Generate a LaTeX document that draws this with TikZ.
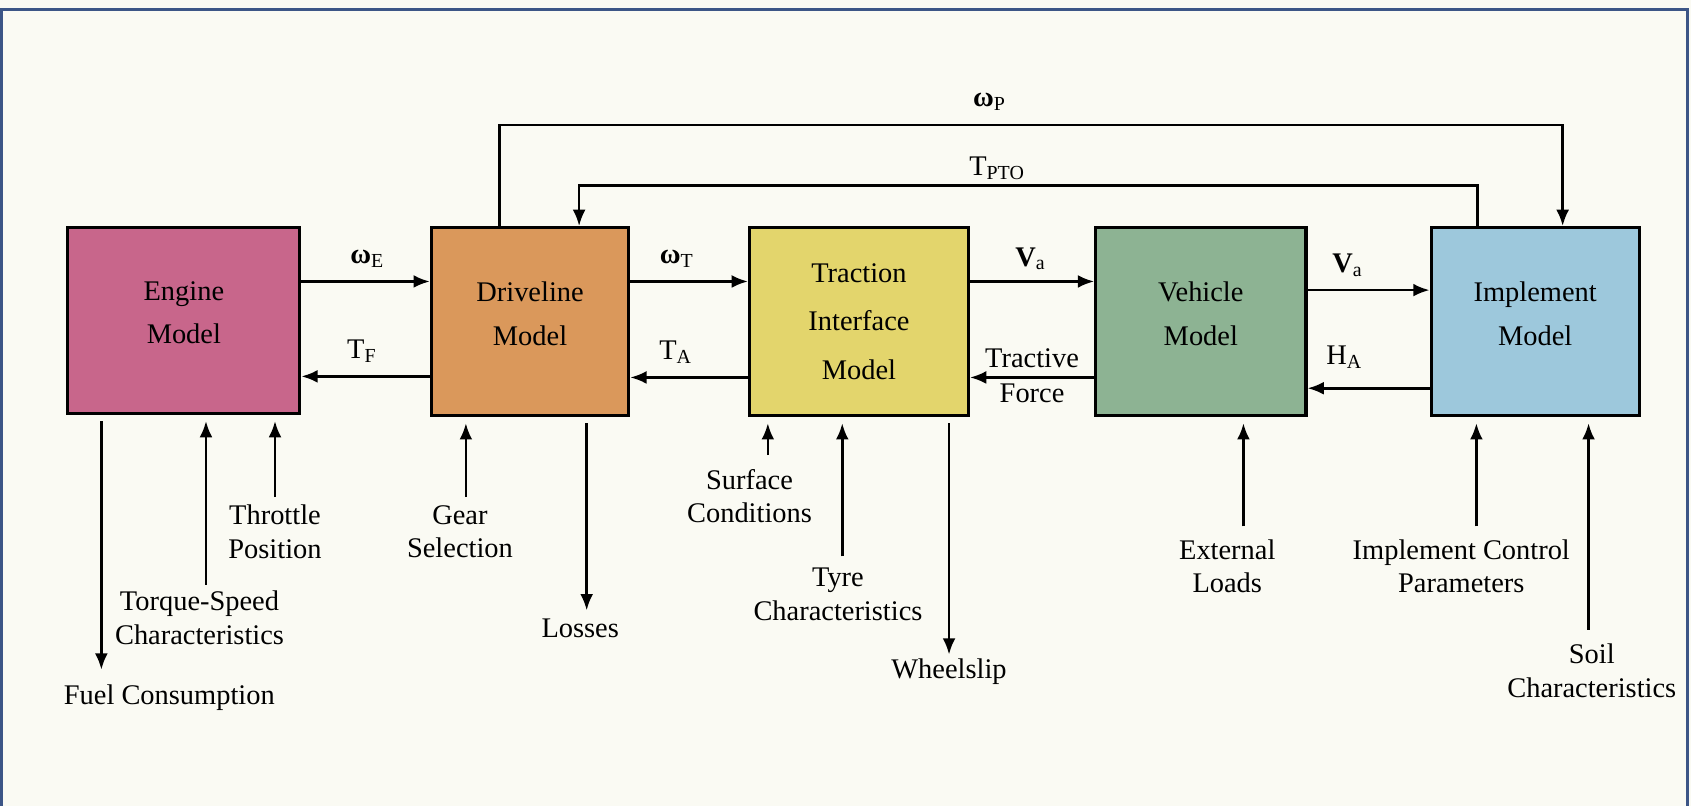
\documentclass[tikz,border=0pt]{standalone}
\usepackage{fontspec}
\setmainfont{Liberation Serif}
\usetikzlibrary{arrows.meta}

\definecolor{enginepink}{HTML}{C8668B}
\definecolor{driveorange}{HTML}{DA985B}
\definecolor{tractyellow}{HTML}{E3D56C}
\definecolor{vehgreen}{HTML}{8DB393}
\definecolor{implblue}{HTML}{9DC8DC}
\definecolor{paper}{HTML}{FAFAF3}
\definecolor{frameblue}{HTML}{3C5586}

\tikzset{
  model/.style={draw, line width=0.8pt, minimum height=17.4mm, align=center,
    font=\fontsize{7.5}{11.5}\selectfont},
  lbl/.style={align=center, inner sep=0pt, font=\fontsize{7.5}{8.8}\selectfont},
}

\begin{document}
\begin{tikzpicture}[>={Latex[length=4.3pt,width=3.4pt]}, x=0.1mm, y=-0.1mm, line width=0.7pt]
			%%%	Background and frame
			\useasboundingbox (0,0) rectangle (1568,747);
			\fill[paper] (0,0) rectangle (1568,747);
			\draw[frameblue, line width=0.8pt] (1.5,747) -- (1.5,8.5) -- (1565,8.5) -- (1565,747);
			%%%	Models
			\node[model, fill=enginepink, minimum width=21.5mm, minimum height=17.2mm] (engine) at (170.5,297) {Engine\\Model\\[-2.6mm]};
			\node[model, fill=driveorange, minimum width=18.3mm] (driveline) at (491.5,298) {Driveline\\Model\\[-2.6mm]};
			\node[model, fill=tractyellow, minimum width=20.3mm, font=\fontsize{7.5}{12.8}\selectfont] (traction) at (796.5,298) {Traction\\Interface\\Model};
			\node[model, fill=vehgreen, minimum width=19.5mm] (vehicle) at (1113.5,298) {Vehicle\\Model\\[-2.6mm]};
			\node[model, fill=implblue, minimum width=19.3mm] (implement) at (1423.5,298) {Implement\\Model\\[-2.6mm]};
			%%%	Links between models
			\draw[->] (engine.east |- 0,261) -- (driveline.west |- 0,261);
			\node[lbl] (wE) at (341,240) {\textbf{ω}\textsubscript{E}};
			\draw[->] (driveline.west |- 0,349) -- (engine.east |- 0,349);
			\node[lbl] (TF) at (336,326) {T\textsubscript{F}};
			\draw[->] (driveline.east |- 0,261) -- (traction.west |- 0,261);
			\node[lbl] (wT) at (628,240) {\textbf{ω}\textsubscript{T}};
			\draw[->] (traction.west |- 0,350) -- (driveline.east |- 0,350);
			\node[lbl] (TA) at (627,327) {T\textsubscript{A}};
			\draw[->] (traction.east |- 0,261) -- (vehicle.west |- 0,261);
			\node[lbl] (Va) at (956,240) {\textbf{V}\textsubscript{a}};
			\draw[->] (vehicle.west |- 0,350) -- (traction.east |- 0,350);
			\node[lbl, font=\fontsize{7.5}{9.2}\selectfont] (force) at (957,348) {Tractive\\Force};
			\draw[->] (vehicle.east |- 0,269) -- (implement.west |- 0,269);
			\node[lbl] (Vai) at (1250,246) {\textbf{V}\textsubscript{a}};
			\draw[->] (implement.west |- 0,360) -- (vehicle.east |- 0,360);
			\node[lbl] (HA) at (1247,331) {H\textsubscript{A}};
			%%%	PTO loops
			\coordinate (wp) at (1449,116);
			\draw[->] (driveline.north -| 463,0) |- (wp) -- (implement.north -| wp);
			\node[lbl] (wP) at (918,94) {\textbf{ω}\textsubscript{P}};
			\coordinate (tpto) at (537,172);
			\draw[->] (implement.north -| 1370,0) |- (tpto) -- (driveline.north -| tpto);
			\node[lbl] (TPTO) at (925,156) {T\textsubscript{PTO}};
			%%%	Inputs and outputs
			\coordinate (fuel) at (94,621);
			\coordinate (torque) at (191,542);
			\coordinate (throttle) at (255,461);
			\coordinate (gear) at (432,461);
			\coordinate (losses) at (544,566);
			\coordinate (surface) at (712,422);
			\coordinate (tyre) at (781,516);
			\coordinate (slip) at (880,607);
			\coordinate (loads) at (1153,488);
			\coordinate (control) at (1369,488);
			\coordinate (soil) at (1473,584);
			\draw[->, shorten <=0.6mm] (engine.south -| fuel) -- (fuel);
			\draw[->, shorten >=0.6mm] (torque) -- (engine.south -| torque);
			\draw[->, shorten >=0.6mm] (throttle) -- (engine.south -| throttle);
			\draw[->, shorten >=0.6mm] (gear) -- (driveline.south -| gear);
			\draw[->, shorten <=0.6mm] (driveline.south -| losses) -- (losses);
			\draw[->, shorten >=0.6mm] (surface) -- (traction.south -| surface);
			\draw[->, shorten >=0.6mm] (tyre) -- (traction.south -| tyre);
			\draw[->, shorten <=0.6mm] (traction.south -| slip) -- (slip);
			\draw[->, shorten >=0.6mm] (loads) -- (vehicle.south -| loads);
			\draw[->, shorten >=0.6mm] (control) -- (implement.south -| control);
			\draw[->, shorten >=0.6mm] (soil) -- (implement.south -| soil);
			\node[lbl] (fuel-t) at (157,647) {Fuel Consumption};
			\node[lbl] (torque-t) at (185,573) {Torque-Speed\\Characteristics};
			\node[lbl] (throttle-t) at (255,493) {Throttle\\Position};
			\node[lbl] (gear-t) at (426.5,493) {Gear\\Selection};
			\node[lbl] (losses-t) at (538,583) {Losses};
			\node[lbl] (surface-t) at (695,460) {Surface\\Conditions};
			\node[lbl] (tyre-t) at (777,551) {Tyre\\Characteristics};
			\node[lbl] (slip-t) at (880,623) {Wheelslip};
			\node[lbl] (loads-t) at (1138,525) {External\\Loads};
			\node[lbl] (control-t) at (1355,525) {Implement Control\\Parameters};
			\node[lbl] (soil-t) at (1476,622) {Soil\\Characteristics};
\end{tikzpicture}
\end{document}
